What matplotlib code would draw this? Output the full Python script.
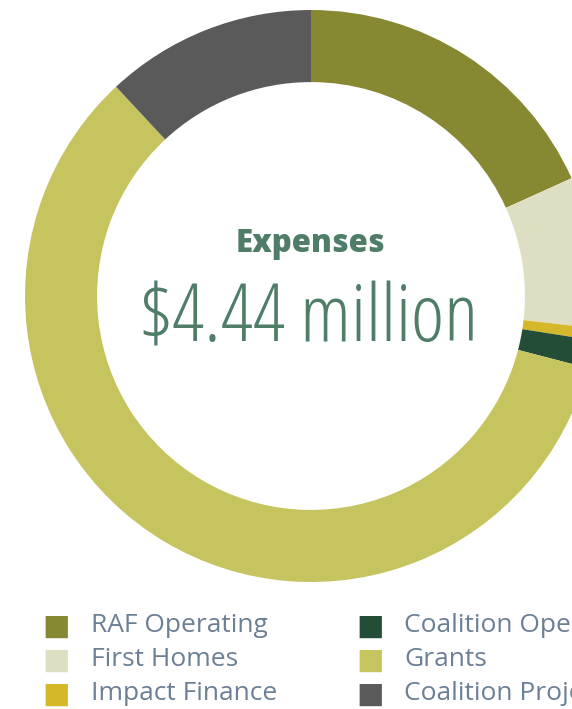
import matplotlib
matplotlib.use("Agg")
from matplotlib import pyplot as plt
from matplotlib import font_manager

# expenses, $ million
labels = ["RAF Operating", "First Homes", "Impact Finance",
          "Coalition Operating", "Grants", "Coalition Projects"]
values = [0.81, 0.38, 0.03, 0.07, 2.62, 0.53]
colors = ["#878832", "#dedfc2", "#d4b82a", "#244d38", "#c5c45e", "#5a5a5a"]

title = "Expenses"
total = "$4.44 million"

# light condensed face for the total
fonts = font_manager.fontManager.ttflist
cands = [f for f in fonts if "Open Sans" in f.name
         and ("ondensed" in f.name or f.stretch == "condensed")
         and "Italic" not in f.fname]
cands.sort(key=lambda f: abs(f.weight - 300) if isinstance(f.weight, int) else 999)
if cands and (not isinstance(cands[0].weight, int) or cands[0].weight <= 400):
    big_font = font_manager.FontProperties(fname=cands[0].fname)
else:
    big_font = font_manager.FontProperties(family="Encode Sans Condensed", weight="light")

W, H = 572, 709
fig = plt.figure(figsize=(W / 100, H / 100), dpi=100)

# donut axes: centre (311, 296) px, radius 286 px, runs past the right edge
cx, cy, r = 311, 296, 286
ax = fig.add_axes([(cx - r) / W, (H - cy - r) / H, 2 * r / W, 2 * r / H])
ax.pie(values, colors=colors, startangle=90, counterclock=False,
       radius=1, wedgeprops=dict(width=0.252, linewidth=0))
ax.set_xlim(-1, 1)
ax.set_ylim(-1, 1)
ax.set_aspect("equal")
ax.axis("off")

green = "#4f7d68"
fig.text(310 / W, 1 - 244 / H, title, ha="center", va="center",
         fontsize=22.5, fontweight="heavy", family="Open Sans", color=green)
big_font.set_size(60)
t = fig.text(309 / W, 1 - 321 / H, total, ha="center", va="center",
             fontproperties=big_font, color=green)
# fit the total to the reference width (~338 px)
fig.canvas.draw()
w = t.get_window_extent().width
big_font.set_size(60 * 338 / w)
t.set_fontproperties(big_font)

# legend, two columns of three
rows = [626, 660, 694]
cols = [(56, 91), (370, 404)]
for i, (lab, c) in enumerate(zip(labels, colors)):
    mx, tx = cols[i // 3]
    y = 1 - rows[i % 3] / H
    fig.text(mx / W, y - 1 / H, "\u25A0", ha="center", va="center", fontsize=21,
             color=c, family="DejaVu Sans")
    fig.text(tx / W, y, lab, ha="left", va="center", fontsize=19,
             family="Open Sans", color="#6b7f95")

fig.savefig("out.png", dpi=100)
